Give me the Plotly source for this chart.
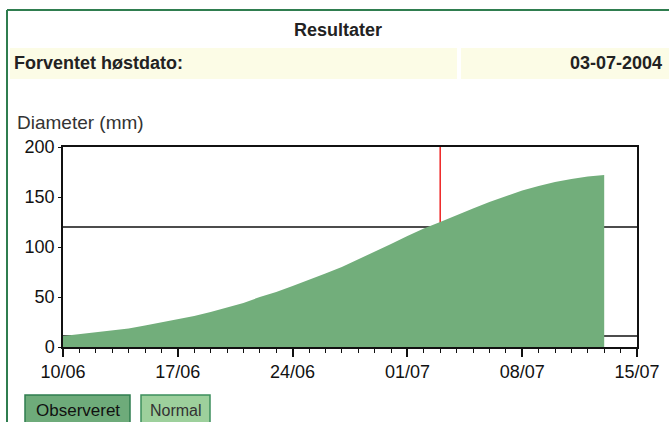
import plotly.graph_objects as go

# ---- data ----
dates = ["2004-06-10", "2004-06-11", "2004-06-12", "2004-06-13", "2004-06-14", "2004-06-15",
         "2004-06-16", "2004-06-17", "2004-06-18", "2004-06-19", "2004-06-20", "2004-06-21",
         "2004-06-22", "2004-06-23", "2004-06-24", "2004-06-25", "2004-06-26", "2004-06-27",
         "2004-06-28", "2004-06-29", "2004-06-30", "2004-07-01", "2004-07-02", "2004-07-03",
         "2004-07-04", "2004-07-05", "2004-07-06", "2004-07-07", "2004-07-08", "2004-07-09",
         "2004-07-10", "2004-07-11", "2004-07-12", "2004-07-13"]
diameter = [11, 13, 14.5, 16.5, 18.5, 21.5, 24.5, 27.5, 31, 35, 39.5, 44, 50, 55, 61, 67,
            73.5, 80, 87.5, 95.5, 103, 111, 118.5, 125, 132, 138.5, 145, 151, 156.5, 161,
            165, 168, 170.5, 172]
tick_dates = ["2004-06-10", "2004-06-17", "2004-06-24", "2004-07-01", "2004-07-08", "2004-07-15"]
tick_labels = ["10/06", "17/06", "24/06", "01/07", "08/07", "15/07"]
y_ticks = [0, 50, 100, 150, 200]
harvest_date = "2004-07-03"
harvest_label = "03-07-2004"
target_diameter = 120
min_diameter = 11
x_range = ["2004-06-10", "2004-07-15"]
y_range = [0, 200]

# ---- layout helpers (pixel -> paper) ----
W, H = 669, 422
L, R, T, B = 63, 32, 147, 75
PW, PH = W - L - R, H - T - B


def px(x):
    return (x - L) / PW


def py(y):
    return (H - B - y) / PH


FONT = "Liberation Sans, Arial, sans-serif"
GREEN_BORDER = "#2f7d4f"

fig = go.Figure()
fig.add_trace(go.Scatter(
    x=dates, y=diameter, mode="lines", fill="tozeroy",
    line=dict(color="#72ae7b", width=0, shape="linear"),
    fillcolor="#72ae7b", hoverinfo="skip", showlegend=False,
))

shapes = [
    # reference lines (behind the area)
    dict(type="line", xref="paper", yref="y", x0=0, x1=1, y0=target_diameter, y1=target_diameter,
         line=dict(color="#111111", width=1.5), layer="below"),
    dict(type="line", xref="paper", yref="y", x0=0, x1=1, y0=min_diameter, y1=min_diameter,
         line=dict(color="#111111", width=1.5), layer="below"),
    dict(type="line", xref="x", yref="y", x0=harvest_date, x1=harvest_date, y0=0, y1=200,
         line=dict(color="#ee2222", width=1.5), layer="below"),
    # frame around the page
    dict(type="line", xref="paper", yref="paper", x0=px(7), x1=px(669), y0=py(10), y1=py(10),
         line=dict(color=GREEN_BORDER, width=2)),
    dict(type="line", xref="paper", yref="paper", x0=px(7), x1=px(7), y0=py(10), y1=py(430),
         line=dict(color=GREEN_BORDER, width=2)),
    # yellow table cells
    dict(type="rect", xref="paper", yref="paper", x0=px(10), x1=px(457), y0=py(48), y1=py(79),
         fillcolor="#fcfce6", line=dict(width=0), layer="below"),
    dict(type="rect", xref="paper", yref="paper", x0=px(461), x1=px(669), y0=py(48), y1=py(79),
         fillcolor="#fcfce6", line=dict(width=0), layer="below"),
    # legend buttons
    dict(type="rect", xref="paper", yref="paper", x0=px(25), x1=px(130), y0=py(395), y1=py(430),
         fillcolor="#6eab7a", line=dict(color=GREEN_BORDER, width=1.5)),
    dict(type="rect", xref="paper", yref="paper", x0=px(141), x1=px(210), y0=py(395), y1=py(430),
         fillcolor="#9dd09c", line=dict(color="#3c8f5c", width=1.5)),
]

annotations = [
    dict(text="<b>Resultater</b>", x=px(338), y=py(30), xref="paper", yref="paper",
         showarrow=False, xanchor="center", yanchor="middle",
         font=dict(size=18, color="#222222", family=FONT)),
    dict(text="<b>Forventet høstdato:</b>", x=px(12), y=py(63), xref="paper", yref="paper",
         showarrow=False, xanchor="left", yanchor="middle",
         font=dict(size=18, color="#222222", family=FONT)),
    dict(text="<b>" + harvest_label + "</b>", x=px(664), y=py(63), xref="paper", yref="paper",
         showarrow=False, xanchor="right", yanchor="middle",
         font=dict(size=18, color="#222222", family=FONT)),
    dict(text="Diameter (mm)", x=px(15), y=py(123), xref="paper", yref="paper",
         showarrow=False, xanchor="left", yanchor="middle",
         font=dict(size=19, color="#333333", family=FONT)),
    dict(text="Observeret", x=px(77.5), y=py(410), xref="paper", yref="paper",
         showarrow=False, xanchor="center", yanchor="middle",
         font=dict(size=17, color="#111111", family=FONT)),
    dict(text="Normal", x=px(175.5), y=py(410), xref="paper", yref="paper",
         showarrow=False, xanchor="center", yanchor="middle",
         font=dict(size=16, color="#333333", family=FONT)),
]

fig.update_layout(
    width=W, height=H,
    margin=dict(l=L, r=R, t=T, b=B, pad=0, autoexpand=False),
    paper_bgcolor="white", plot_bgcolor="white",
    showlegend=False,
    shapes=shapes, annotations=annotations,
    font=dict(family=FONT, size=17, color="#111111"),
    xaxis=dict(
        type="date", range=x_range, tickvals=tick_dates, ticktext=tick_labels,
        ticks="outside", ticklen=8, tickwidth=1.5, tickcolor="#111111",
        showline=True, linecolor="#111111", linewidth=1.5, mirror=True,
        showgrid=False, zeroline=False, fixedrange=True, automargin=False,
        tickfont=dict(size=18, family=FONT, color="#111111"),
        minor=dict(ticks="outside", ticklen=4, tickwidth=1.2, tickcolor="#111111",
                   dtick=86400000, tick0="2004-06-10", showgrid=False),
    ),
    yaxis=dict(
        range=y_range, tickvals=y_ticks, ticks="outside", ticklen=3,
        tickwidth=1.2, tickcolor="#111111",
        showline=True, linecolor="#111111", linewidth=1.5, mirror=True,
        showgrid=False, zeroline=False, fixedrange=True, automargin=False,
        tickfont=dict(size=18, family=FONT, color="#111111"),
        ticklabelstandoff=0,
    ),
)

fig.write_html("out.html", config={"displayModeBar": False},
               post_script="document.body.style.margin='0';document.body.style.overflow='hidden';")
